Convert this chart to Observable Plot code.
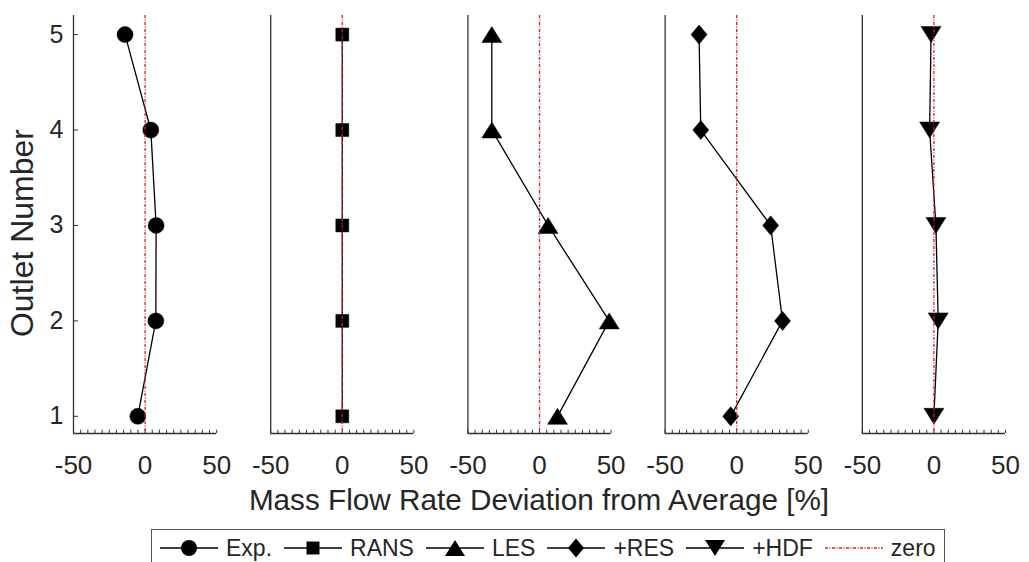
<!DOCTYPE html>
<html>
<head>
<meta charset="utf-8">
<script src="https://cdn.jsdelivr.net/npm/d3@7"></script>
<script src="https://cdn.jsdelivr.net/npm/@observablehq/plot@0.6"></script>
<style>
  html, body { margin: 0; padding: 0; background: #fff; }
  body { font-family: "Liberation Sans", Arial, Helvetica, sans-serif; color: #262626; }
  #wrap { position: relative; width: 1029px; height: 562px; overflow: hidden; }
  #chart { position: absolute; left: 0; top: 0; }
  #xtitle { position: absolute; left: 73px; width: 932px; top: 485px; text-align: center;
            font-size: 29.7px; line-height: 1; white-space: nowrap; }
  #ytitle { position: absolute; left: 6px; top: 383px; width: 300px; text-align: center;
            font-size: 32px; line-height: 1; white-space: nowrap;
            transform-origin: 0 0; transform: rotate(-90deg); }
  #legend { position: absolute; left: 151px; top: 529px; height: 44px; box-sizing: border-box;
            border: 1.5px solid #555; background: #fff; display: flex; align-items: center;
            padding: 0 8px 6px 8px; font-size: 23px; white-space: nowrap; }
  .item { display: flex; align-items: center; margin-right: 12px; }
  .item:last-child { margin-right: 0; }
  .item svg { display: block; margin-right: 8px; }
</style>
</head>
<body>
<div id="wrap">
  <div id="chart"></div>
  <div id="xtitle">Mass Flow Rate Deviation from Average [%]</div>
  <div id="ytitle">Outlet Number</div>
  <div id="legend"></div>
</div>
<script>
// ---- data ----
const series = ["Exp.", "RANS", "LES", "+RES", "+HDF"];
const outlets = [1, 2, 3, 4, 5];
const expValues  = [-5.1, 7.5, 7.7, 4.0, -14.0];
const ransValues = [0.0, 0.0, 0.0, 0.0, 0.0];
const lesValues  = [12.6, 48.7, 6.0, -33.3, -33.3];
const resValues  = [-4.2, 32.0, 23.7, -25.1, -26.3];
const hdfValues  = [0.0, 3.0, 1.4, -3.0, -2.0];
const xTickValues = [-50, 0, 50];
const xMinorStep = 5;
const zeroLabel = "zero";

// ---- marker shapes ----
const circleSym = d3.symbolCircle;
const squareSym = { draw(ctx, size) { const r = Math.sqrt(size / Math.PI) * 0.81;
  ctx.moveTo(-r, -r); ctx.lineTo(r, -r); ctx.lineTo(r, r); ctx.lineTo(-r, r); ctx.closePath(); } };
const triUpSym = { draw(ctx, size) { const r = Math.sqrt(size / Math.PI);
  ctx.moveTo(0, -r); ctx.lineTo(1.25 * r, r); ctx.lineTo(-1.25 * r, r); ctx.closePath(); } };
const triDownSym = { draw(ctx, size) { const r = Math.sqrt(size / Math.PI);
  ctx.moveTo(0, r); ctx.lineTo(1.25 * r, -r); ctx.lineTo(-1.25 * r, -r); ctx.closePath(); } };
const diamondSym = { draw(ctx, size) { const r = Math.sqrt(size / Math.PI);
  ctx.moveTo(0, -1.2 * r); ctx.lineTo(r, 0); ctx.lineTo(0, 1.2 * r); ctx.lineTo(-r, 0); ctx.closePath(); } };
const symbols = [circleSym, squareSym, triUpSym, diamondSym, triDownSym];

const valueSets = [expValues, ransValues, lesValues, resValues, hdfValues];
const rows = [];
series.forEach((s, i) => outlets.forEach((o, j) => rows.push({series: s, outlet: o, value: valueSets[i][j]})));

const yDomain = [0.82, 5.2];
const xDomain = [-50, 50];
const minorTicks = d3.range(xDomain[0], xDomain[1] + 0.001, xMinorStep);
const axisColor = "#333";
const zeroColor = "#c8262a";
const zeroDash = "3 1.5 1 1.5";

const chart = Plot.plot({
  width: 1029,
  height: 515,
  marginLeft: 73,
  marginRight: 24,
  marginTop: 15,
  marginBottom: 82,
  style: { fontFamily: '"Liberation Sans", Arial, Helvetica, sans-serif', fontSize: "26px", color: "#262626", background: "#fff" },
  x: { domain: xDomain },
  y: { domain: yDomain },
  fx: { domain: series, axis: null, paddingInner: 0.274, paddingOuter: 0, round: false, label: null },
  marks: [
    // frame: left and bottom axis lines in every panel
    Plot.ruleX([xDomain[0]], { stroke: axisColor, strokeWidth: 1.3 }),
    Plot.ruleY([yDomain[0]], { stroke: axisColor, strokeWidth: 1.3 }),
    // small inward minor ticks along the bottom
    Plot.ruleX(minorTicks, { x: d => d, y1: yDomain[0], y2: yDomain[0] + 0.035, stroke: axisColor, strokeWidth: 1 }),
    // inward y ticks only on the first panel
    Plot.ruleY(outlets.map(o => ({ o, s: series[0] })), { y: "o", fx: "s", x1: xDomain[0], x2: xDomain[0] + 3.5, stroke: axisColor, strokeWidth: 1 }),
    Plot.axisX({ ticks: xTickValues, tickSize: 0, tickPadding: 22, tickFormat: d => String(d), fontSize: 26, label: null, fill: "#262626" }),
    Plot.axisY({ ticks: outlets, tickSize: 0, tickPadding: 10, tickFormat: d => String(d), fontSize: 25, label: null, fill: "#262626" }),
    // data
    Plot.line(rows, { x: "value", y: "outlet", fx: "series", z: "series", stroke: "black", strokeWidth: 1.3 }),
    ...series.map((s, i) => Plot.dot(rows.filter(d => d.series === s), {
      x: "value", y: "outlet", fx: "series", symbol: symbols[i], r: 8, fill: "black", stroke: "black", strokeWidth: 0.5
    })),
    // zero reference line on top
    Plot.ruleX([0], { stroke: zeroColor, strokeWidth: 1.3, strokeDasharray: zeroDash })
  ]
});
document.getElementById("chart").appendChild(chart);

// ---- legend ----
const legend = d3.select("#legend");
series.forEach((s, i) => {
  const item = legend.append("div").attr("class", "item");
  const svg = item.append("svg").attr("width", 58).attr("height", 24);
  svg.append("line").attr("x1", 0).attr("x2", 58).attr("y1", 12).attr("y2", 12)
    .attr("stroke", "black").attr("stroke-width", 1.5);
  svg.append("path").attr("transform", "translate(29,12)")
    .attr("d", d3.symbol(symbols[i], Math.PI * 64)()).attr("fill", "black");
  item.append("span").text(s);
});
{
  const item = legend.append("div").attr("class", "item");
  const svg = item.append("svg").attr("width", 58).attr("height", 24);
  svg.append("line").attr("x1", 0).attr("x2", 58).attr("y1", 12).attr("y2", 12)
    .attr("stroke", zeroColor).attr("stroke-width", 1.3).attr("stroke-dasharray", zeroDash);
  item.append("span").text(zeroLabel);
}
</script>
</body>
</html>
